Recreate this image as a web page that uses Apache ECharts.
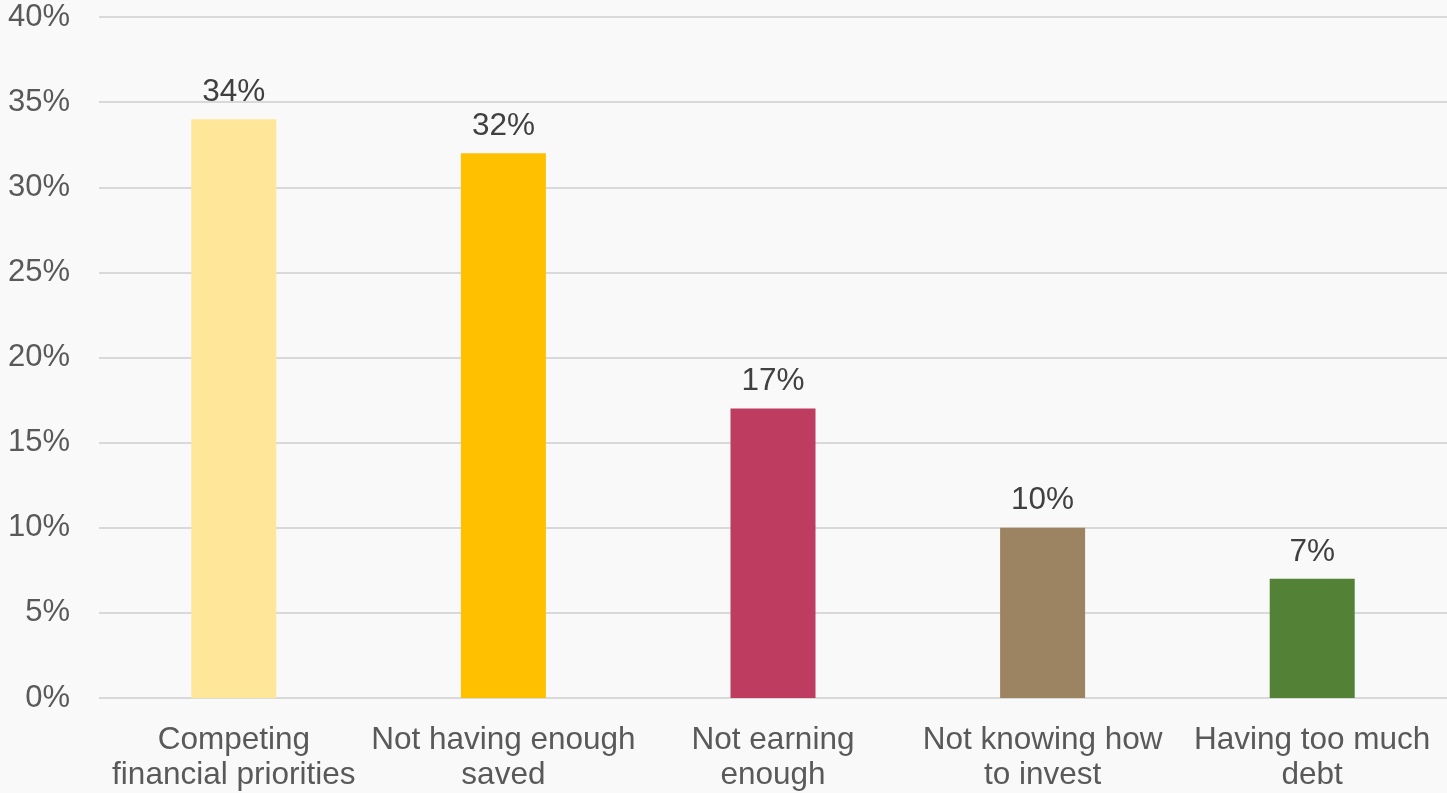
<!DOCTYPE html>
<html><head><meta charset="utf-8">
<script src="https://cdn.jsdelivr.net/npm/echarts@6/dist/echarts.min.js"></script>
<style>html,body{margin:0;padding:0;background:#f9f9f9;}#c{width:1447px;height:793px;}</style>
</head><body><div id="c"></div>
<script>
const categories = ["Competing\nfinancial priorities", "Not having enough\nsaved", "Not earning\nenough", "Not knowing how\nto invest", "Having too much\ndebt"];
const values = [34, 32, 17, 10, 7];
const barColors = ["#FFE699", "#FFC000", "#BE3C5F", "#9C8361", "#538135"];
const yTicks = [0, 5, 10, 15, 20, 25, 30, 35, 40];

const chart = echarts.init(document.getElementById('c'), null, {renderer: 'canvas'});
chart.setOption({
  backgroundColor: '#f9f9f9',
  animation: false,
  grid: {left: 99, right: 0, top: 17, bottom: 92, containLabel: false},
  xAxis: {
    type: 'category', data: categories,
    axisLine: {show: false}, axisTick: {show: false},
    axisLabel: {color: '#595959', fontSize: 31.5, fontFamily: 'Liberation Sans, Arial', lineHeight: 35, margin: 25, interval: 0}
  },
  yAxis: {
    type: 'value', min: yTicks[0], max: yTicks[yTicks.length - 1], interval: 5,
    axisLine: {show: false}, axisTick: {show: false},
    splitLine: {lineStyle: {color: '#d9d9d9', width: 2}},
    axisLabel: {color: '#595959', fontSize: 31, fontFamily: 'Liberation Sans, Arial', margin: 29, formatter: '{value}%'}
  },
  series: [{
    type: 'bar', barWidth: 85,
    data: values.map((v, i) => ({value: v, itemStyle: {color: barColors[i]}})),
    label: {show: true, position: 'top', distance: 11, color: '#404040', fontSize: 31.5, fontFamily: 'Liberation Sans, Arial', formatter: '{c}%'}
  }]
});
</script></body></html>
